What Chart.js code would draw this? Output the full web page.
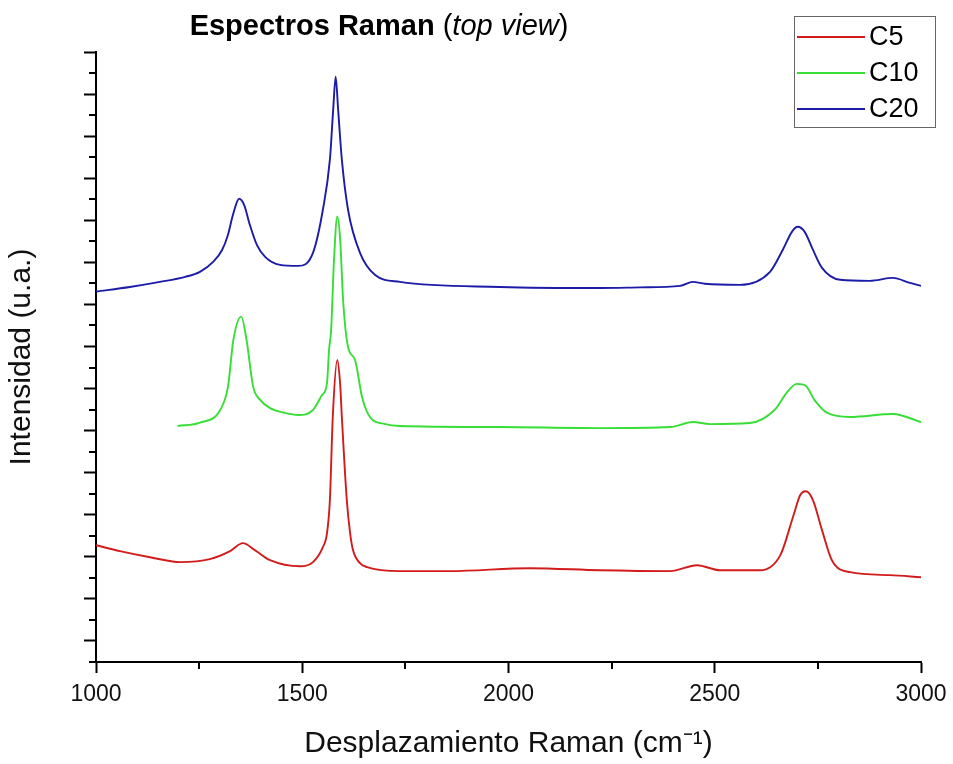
<!DOCTYPE html>
<html>
<head>
<meta charset="utf-8">
<script src="https://cdn.jsdelivr.net/npm/chart.js@4"></script>
<style>
  html, body { margin: 0; padding: 0; background: #fff; }
  #wrap { width: 953px; height: 764px; position: relative; }
</style>
</head>
<body>
<div id="wrap"><canvas id="raman"></canvas></div>
<script>
const FONT = "'Liberation Sans', Arial, sans-serif";

// Raman shift (cm-1) / intensity (u.a., stacked)
const c5Shift = [1000, 1058, 1131, 1204, 1276, 1325, 1356, 1385, 1422, 1495, 1526, 1550, 1560, 1567, 1574, 1585, 1592, 1596, 1608, 1616, 1623, 1640, 1657, 1737, 1858, 2052, 2222, 2392, 2457, 2513, 2610, 2659, 2691, 2707, 2721, 2738, 2760, 2784, 2828, 2925, 3000];
const c5Int = [4.55, 4.27, 3.98, 3.75, 3.89, 4.27, 4.65, 4.32, 3.84, 3.55, 3.75, 4.46, 5.13, 6.7, 10.65, 13.36, 12.17, 10.65, 6.7, 5.13, 4.32, 3.7, 3.51, 3.32, 3.32, 3.46, 3.36, 3.32, 3.6, 3.36, 3.36, 4.08, 5.98, 6.93, 7.12, 6.7, 5.27, 3.84, 3.27, 3.13, 3.03];

const c10Shift = [1198, 1252, 1301, 1320, 1333, 1352, 1365, 1381, 1398, 1422, 1458, 1490, 1526, 1548, 1560, 1565, 1570, 1577, 1585, 1592, 1599, 1611, 1628, 1645, 1664, 1701, 1737, 1979, 2222, 2392, 2447, 2488, 2585, 2645, 2676, 2699, 2721, 2742, 2773, 2828, 2932, 3000];
const c10Int = [10.22, 10.38, 10.98, 12.09, 14.31, 15.42, 14.31, 12.09, 11.46, 11.07, 10.84, 10.74, 10.98, 11.69, 12.26, 13.84, 14.78, 18.12, 20.18, 19.07, 16.21, 13.98, 13.36, 11.6, 10.65, 10.31, 10.22, 10.17, 10.12, 10.17, 10.41, 10.31, 10.36, 10.98, 11.84, 12.22, 12.12, 11.45, 10.84, 10.65, 10.79, 10.41];

const c20Shift = [1000, 1082, 1155, 1216, 1252, 1284, 1306, 1320, 1332, 1347, 1359, 1373, 1390, 1410, 1446, 1490, 1526, 1550, 1567, 1575, 1581, 1587, 1596, 1611, 1640, 1676, 1737, 1979, 2222, 2319, 2416, 2447, 2476, 2561, 2634, 2665, 2687, 2701, 2718, 2736, 2760, 2804, 2876, 2932, 2973, 3000];
const c20Int = [16.61, 16.83, 17.07, 17.31, 17.55, 18.02, 18.6, 19.31, 20.26, 21.02, 20.73, 19.78, 18.83, 18.26, 17.88, 17.83, 18.45, 20.5, 22.88, 25.26, 26.83, 25.26, 22.88, 20.5, 18.45, 17.41, 17.07, 16.83, 16.78, 16.81, 16.88, 17.07, 16.98, 16.93, 17.55, 18.6, 19.45, 19.69, 19.45, 18.69, 17.74, 17.17, 17.12, 17.26, 17.02, 16.88];

const seriesNames = ["C5", "C10", "C20"];
const seriesColors = ["#d21c1c", "#36de36", "#1c1ca8"];

const xTicks = [1000, 1500, 2000, 2500, 3000];
const xMinor = [1250, 1750, 2250, 2750];
const yTicks = [0, 2, 4, 6, 8, 10, 12, 14, 16, 18, 20, 22, 24, 26, 28];
const yMinor = [-1, 1, 3, 5, 7, 9, 11, 13, 15, 17, 19, 21, 23, 25, 27];

const toPoints = (xs, ys) => xs.map((x, i) => ({ x, y: ys[i] }));

// --- title, legend box and minor ticks ---
const extras = {
  id: "extras",
  afterDraw(chart) {
    const { ctx, scales: { x, y } } = chart;
    ctx.save();
    ctx.strokeStyle = "#000";
    ctx.lineWidth = 2;
    ctx.beginPath();
    xMinor.forEach((v) => {
      const px = Math.round(x.getPixelForValue(v));
      ctx.moveTo(px, x.top);
      ctx.lineTo(px, x.top + 7);
    });
    yMinor.forEach((v) => {
      const py = Math.round(y.getPixelForValue(v));
      ctx.moveTo(y.right - 7, py);
      ctx.lineTo(y.right, py);
    });
    ctx.stroke();

    // title with mixed styles
    const parts = [
      ["bold 29px " + FONT, "Espectros Raman "],
      ["29px " + FONT, "("],
      ["italic 29px " + FONT, "top view"],
      ["29px " + FONT, ")"],
    ];
    let total = 0;
    parts.forEach(([f, t]) => { ctx.font = f; total += ctx.measureText(t).width; });
    let tx = 379 - total / 2;
    ctx.fillStyle = "#000";
    ctx.textBaseline = "alphabetic";
    ctx.textAlign = "left";
    parts.forEach(([f, t]) => {
      ctx.font = f;
      ctx.fillText(t, tx, 35);
      tx += ctx.measureText(t).width;
    });

    // legend
    ctx.fillStyle = "#fff";
    ctx.fillRect(794.5, 16.5, 141, 111);
    ctx.strokeStyle = "#666";
    ctx.lineWidth = 1;
    ctx.strokeRect(794.5, 16.5, 141, 111);
    const rows = [37, 73, 109];
    ctx.font = "27px " + FONT;
    ctx.textBaseline = "middle";
    chart.data.datasets.forEach((ds, i) => {
      ctx.strokeStyle = ds.borderColor;
      ctx.lineWidth = 2;
      ctx.beginPath();
      ctx.moveTo(797, rows[i]);
      ctx.lineTo(865, rows[i]);
      ctx.stroke();
      ctx.fillStyle = "#000";
      ctx.fillText(ds.label, 869, rows[i] + 1);
    });
    ctx.restore();
  },
};

new Chart(document.getElementById("raman"), {
  type: "line",
  data: {
    datasets: [
      { label: seriesNames[0], data: toPoints(c5Shift, c5Int), borderColor: seriesColors[0] },
      { label: seriesNames[1], data: toPoints(c10Shift, c10Int), borderColor: seriesColors[1] },
      { label: seriesNames[2], data: toPoints(c20Shift, c20Int), borderColor: seriesColors[2] },
    ],
  },
  options: {
    responsive: true,
    maintainAspectRatio: false,
    animation: false,
    layout: { padding: { top: 52, right: 32, left: 0, bottom: 0 } },
    elements: {
      point: { radius: 0 },
      line: { borderWidth: 1.9, cubicInterpolationMode: "monotone", fill: false },
    },
    plugins: { legend: { display: false }, title: { display: false }, tooltip: { enabled: false } },
    scales: {
      x: {
        type: "linear",
        min: 1000,
        max: 3000,
        afterBuildTicks: (s) => { s.ticks = xTicks.map((v) => ({ value: v })); },
        afterFit: (s) => { s.height = 102; s.paddingRight = 0; s.paddingLeft = 0; },
        border: { display: true, color: "#000", width: 2 },
        grid: { drawOnChartArea: false, drawTicks: true, tickLength: 11, tickColor: "#000", tickWidth: 2 },
        ticks: {
          color: "#111",
          font: { family: FONT, size: 23 },
          padding: 8,
          maxRotation: 0,
          callback: (v) => String(v),
        },
        title: {
          display: true,
          text: "Desplazamiento Raman (cm\u207B\u00B9)",
          color: "#111",
          font: { family: FONT, size: 30 },
          padding: { top: 0, bottom: 2 },
        },
      },
      y: {
        type: "linear",
        min: -1,
        max: 28,
        afterBuildTicks: (s) => { s.ticks = yTicks.map((v) => ({ value: v })); },
        afterFit: (s) => { s.width = 96; s.paddingTop = 0; s.paddingBottom = 0; },
        border: { display: true, color: "#000", width: 2 },
        grid: { drawOnChartArea: false, drawTicks: true, tickLength: 12, tickColor: "#000", tickWidth: 2 },
        ticks: { display: false },
        title: {
          display: true,
          text: "Intensidad (u.a.)",
          color: "#111",
          font: { family: FONT, size: 30 },
          padding: { top: 4, bottom: 0 },
        },
      },
    },
  },
  plugins: [extras],
});
</script>
</body>
</html>
